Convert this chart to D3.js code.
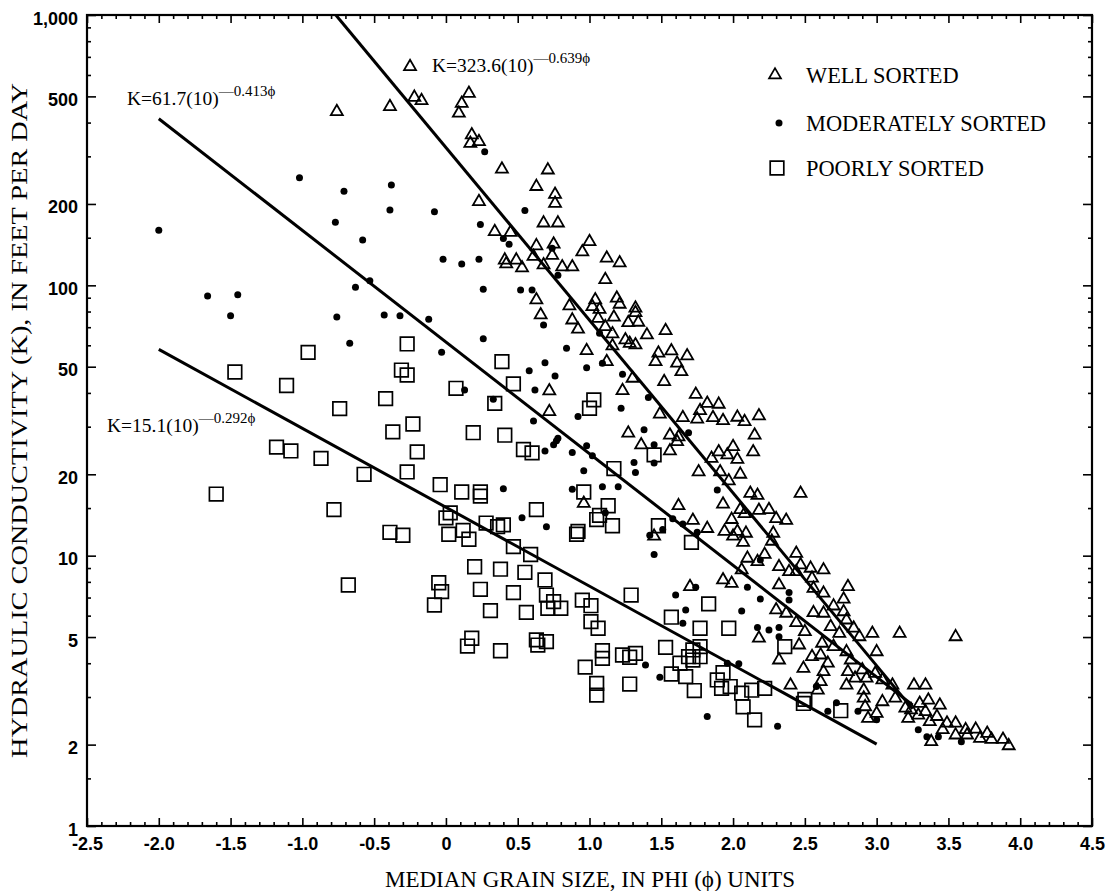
<!DOCTYPE html>
<html><head><meta charset="utf-8">
<script src="https://cdn.jsdelivr.net/npm/d3@7"></script>
<style>
html,body{margin:0;padding:0;background:#fff;}
svg{display:block;}
</style></head>
<body><svg id="chart" width="1111" height="891"></svg>
<script>
// ---------- DATA ----------
const wellPhi = [-0.76,-0.39,-0.25,-0.22,-0.17,0.16,0.11,0.09,0.18,0.17,0.23,0.39,0.71,0.63,0.76,0.76,0.23,0.68,0.78,0.34,0.45,0.63,0.75,0.61,0.68,0.74,1.00,0.95,1.12,1.21,1.11,0.41,0.42,0.49,0.53,0.81,0.88,0.86,1.04,1.02,1.07,1.19,1.21,1.32,1.32,0.63,0.66,0.88,0.92,1.06,1.11,1.17,1.16,1.27,1.34,1.25,1.28,1.32,1.40,1.53,0.98,1.16,1.12,1.48,1.46,1.57,1.68,1.61,1.64,1.30,1.52,0.72,1.23,1.74,0.72,1.49,1.65,1.75,1.27,1.56,1.62,1.36,1.61,1.56,0.96,1.62,1.72,1.45,1.70,1.76,1.82,1.90,1.77,1.86,1.93,2.03,2.08,2.18,2.15,2.00,1.90,1.96,2.03,2.14,1.85,1.91,1.97,2.05,2.12,2.17,1.93,2.47,2.05,2.08,2.18,2.25,2.30,2.37,1.99,1.82,1.94,2.03,2.09,2.00,2.07,2.28,2.27,2.10,2.17,2.22,2.06,2.32,2.39,2.44,2.47,2.54,2.63,2.44,1.93,1.99,2.32,2.55,2.56,2.80,2.63,2.77,2.70,2.30,2.37,2.56,2.63,2.77,2.79,2.44,2.50,2.68,2.74,2.84,2.88,2.97,3.16,3.55,2.18,2.62,2.70,2.46,2.55,2.61,2.32,2.49,2.66,2.79,2.82,3.00,2.90,2.85,2.80,2.93,2.99,2.63,2.61,2.59,2.40,2.79,2.91,3.04,3.11,3.13,2.91,3.04,2.92,3.00,2.94,3.26,3.34,3.20,3.24,3.30,3.36,3.44,3.22,3.29,3.34,3.42,3.37,3.49,3.55,3.46,3.62,3.69,3.63,3.72,3.77,3.80,3.88,3.92,3.38,3.55];
const wellK = [439,458,644,496,482,513,471,433,360,335,340,269,267,232,217,201,204,170,170,158,157,140,142,128,119,129,145,133,126,121,105,124,120,124,116,117,117,83.9,88.3,83.4,81.5,89.6,85.1,82.3,79.2,88.3,77.7,74.4,68.8,75.5,70.3,76.2,66.1,72.7,73.0,62.8,61.0,60.2,65.5,68.0,57.3,59.7,52.2,56.1,52.2,57.2,54.8,51.5,47.9,45.3,44.0,40.7,40.8,39.5,34.1,33.4,32.4,32.0,28.4,27.9,27.5,25.7,26.4,24.4,15.6,15.3,13.5,11.8,7.68,20.4,36.6,36.3,34.4,32.4,31.6,32.5,31.3,32.9,27.9,25.3,24.2,23.6,22.7,24.2,22.9,20.4,18.9,20.0,17.0,16.7,15.5,17.0,14.8,14.3,14.7,14.8,13.7,13.5,13.6,12.6,12.3,12.3,12.1,11.8,11.2,12.1,11.3,9.78,9.50,10.1,8.85,9.10,8.72,10.2,9.24,8.98,8.85,8.72,8.13,7.90,7.79,8.25,7.57,7.68,7.26,6.90,6.51,6.30,6.12,6.15,6.12,6.20,5.78,5.65,5.23,5.46,5.16,5.39,5.01,5.16,5.16,5.01,4.95,4.74,4.61,4.67,4.23,4.29,4.11,3.83,4.00,4.41,4.11,4.41,3.78,3.52,3.72,3.52,3.67,3.72,3.42,3.18,3.32,3.32,3.18,3.47,3.32,2.97,2.97,2.88,2.76,2.61,2.50,3.32,3.32,2.73,2.69,2.84,2.92,2.80,2.50,2.57,2.65,2.54,2.43,2.40,2.40,2.27,2.27,2.28,2.17,2.11,2.20,2.09,2.09,1.98,2.05,2.17];

const moderatePhi = [-1.02,-0.71,-0.38,-0.39,-0.77,-0.58,-2.00,-0.53,-0.63,-1.66,-1.45,-1.50,-0.76,-0.43,-0.32,-0.67,0.27,-0.08,0.55,0.24,0.40,0.44,0.74,-0.02,0.11,0.23,0.78,0.26,0.52,0.60,0.68,-0.12,0.26,-0.03,0.84,0.69,0.58,0.76,0.98,1.09,1.07,1.23,0.13,0.62,0.33,1.41,1.22,0.92,0.61,1.38,1.69,0.78,0.75,0.77,0.69,0.88,0.98,1.02,1.45,1.31,1.32,0.96,1.45,0.40,0.88,1.09,1.20,0.53,0.70,1.11,1.58,1.51,1.42,1.45,1.65,1.75,1.60,1.67,1.65,1.74,1.39,1.49,1.89,2.10,2.19,2.06,2.39,2.39,2.17,2.25,2.32,2.32,2.58,2.04,1.96,1.82,2.31,2.72,2.66,2.87,3.00,3.29,3.35,3.43,3.59,2.19];
const moderateK = [250,223,235,190,171,147,160,104,98.3,91.3,92.3,77.2,76.4,77.7,77.2,61.0,312,187,189,168,149,142,137,125,120,125,109,96.7,96.1,96.1,71.3,74.9,63.5,56.5,58.5,51.7,48.3,46.2,49.6,51.5,66.5,46.9,41.0,41.0,37.9,38.5,35.1,32.7,31.5,29.2,28.5,27.2,25.7,26.6,24.4,24.1,25.5,23.4,25.7,22.1,20.3,20.6,22.0,17.7,17.6,18.0,18.0,13.8,12.8,14.4,13.7,12.5,11.9,10.1,13.1,12.2,7.15,6.30,5.62,7.64,3.94,3.55,17.5,7.64,6.92,6.24,7.30,6.85,5.42,5.31,5.42,5.01,3.28,3.98,4.00,2.54,2.34,2.86,2.66,2.66,2.47,2.27,2.14,2.14,2.05,9.64];

const poorPhi = [-0.96,-1.47,-1.11,-0.74,-0.42,-0.27,-0.31,-0.27,-0.23,-0.37,-1.18,-1.08,-0.87,-0.57,-1.60,-0.78,-0.39,-0.30,-0.68,0.39,0.47,0.07,0.34,1.03,1.00,0.19,0.41,-0.20,0.54,0.60,1.17,1.45,-0.27,-0.04,0.11,0.24,0.24,0.96,0.03,0.00,0.63,1.13,1.07,1.05,0.28,0.36,0.40,0.02,0.12,0.16,0.92,0.91,1.16,1.48,1.71,0.47,0.59,0.20,0.38,0.55,0.69,-0.05,-0.03,-0.08,0.24,0.47,0.70,0.75,0.71,0.80,0.95,1.01,1.01,1.06,1.29,0.31,0.56,1.57,1.77,0.18,0.15,0.38,0.63,0.64,0.70,1.09,1.09,1.23,1.28,1.32,1.53,0.97,1.05,1.05,1.28,1.57,1.63,1.69,1.72,1.67,1.73,1.83,1.97,2.36,1.77,1.77,1.72,1.93,1.89,1.98,1.92,2.06,2.13,2.22,2.07,2.15,2.50,2.49,2.75];
const poorK = [56.5,47.8,42.6,35.0,38.1,60.7,48.6,46.6,30.7,28.7,25.2,24.4,22.9,20.0,16.9,14.8,12.2,11.9,7.79,52.2,43.2,41.6,36.6,37.7,35.1,28.5,27.9,24.2,24.7,24.0,21.0,23.6,20.4,18.3,17.2,17.2,16.6,17.2,14.4,13.8,14.8,15.3,14.1,13.6,13.2,12.8,13.0,12.0,12.4,11.5,12.3,12.0,12.9,12.9,11.2,10.8,10.1,9.10,8.91,8.68,8.13,7.94,7.36,6.57,7.51,7.30,7.15,6.76,6.39,6.39,6.85,6.53,5.70,5.39,7.15,6.26,6.17,5.92,5.39,4.95,4.63,4.45,4.88,4.67,4.81,4.45,4.17,4.29,4.21,4.35,4.58,3.87,3.37,3.05,3.35,3.65,4.00,4.23,4.48,3.57,3.17,6.63,5.39,4.61,4.61,4.23,4.11,3.69,3.47,3.28,3.23,3.10,3.18,3.23,2.76,2.47,2.94,2.84,2.67];

// regression lines K = a * 10^(-b*phi)
const fitA = [323.6, 61.7, 15.1];
const fitB = [0.639, 0.413, 0.292];
const fitStart = [-0.77, -2.0, -2.0];
const fitEnd = [3.25, 3.25, 3.0];
const fitCoefText = ["323.6", "61.7", "15.1"];
const fitExpText = ["0.639", "0.413", "0.292"];

const xMajorTicks = [-2.5,-2.0,-1.5,-1.0,-0.5,0,0.5,1.0,1.5,2.0,2.5,3.0,3.5,4.0,4.5];
const xTickLabels = ["-2.5","-2.0","-1.5","-1.0","-0.5","0","0.5","1.0","1.5","2.0","2.5","3.0","3.5","4.0","4.5"];
const yMajorTicks = [1,2,5,10,20,50,100,200,500,1000];
const yTickLabels = ["1","2","5","10","20","50","100","200","500","1,000"];
const yMinorTicks = [1.5,3,4,6,7,8,9,15,30,40,60,70,80,90,150,300,400,600,700,800,900];
const legendLabels = ["WELL SORTED","MODERATELY SORTED","POORLY SORTED"];
const xTitle = "MEDIAN GRAIN SIZE, IN PHI (\u03D5) UNITS";
const yTitle = "HYDRAULIC CONDUCTIVITY (K), IN FEET PER DAY";

// ---------- LAYOUT ----------
const L = 87, R = 1092, T = 15, B = 826;
const serif = "'Liberation Serif','Times New Roman',serif";
const sans = "'Liberation Sans',Arial,sans-serif";

const svg = d3.select("#chart");
const x = d3.scaleLinear().domain([-2.5, 4.5]).range([L, R]);
const y = d3.scaleLog().domain([1, 1000]).range([B, T]);

const xMinorTicks = d3.range(-25, 46).map(v => v / 10).filter(v => !xMajorTicks.some(m => Math.abs(m - v) < 1e-9));

function styleAxis(g) {
  g.select(".domain").remove();
  g.selectAll(".tick line").attr("stroke", "#000").attr("stroke-width", 1.6);
}

// bottom axis
svg.append("g").attr("transform", `translate(0,${B})`)
  .call(d3.axisBottom(x).tickValues(xMinorTicks).tickSize(-4).tickFormat(""))
  .call(styleAxis);
svg.append("g").attr("transform", `translate(0,${B})`)
  .call(d3.axisBottom(x).tickValues(xMajorTicks).tickSize(-8).tickPadding(11)
    .tickFormat((d, i) => xTickLabels[i]))
  .call(styleAxis)
  .call(g => g.selectAll("text").attr("font-family", sans).attr("font-weight", "bold")
    .attr("font-size", 18).attr("fill", "#000"));
// top axis
svg.append("g").attr("transform", `translate(0,${T})`)
  .call(d3.axisTop(x).tickValues(xMinorTicks).tickSize(-4).tickFormat(""))
  .call(styleAxis);
svg.append("g").attr("transform", `translate(0,${T})`)
  .call(d3.axisTop(x).tickValues(xMajorTicks).tickSize(-8).tickFormat(""))
  .call(styleAxis);
// left axis
svg.append("g").attr("transform", `translate(${L},0)`)
  .call(d3.axisLeft(y).tickValues(yMinorTicks).tickSize(-4).tickFormat(""))
  .call(styleAxis);
svg.append("g").attr("transform", `translate(${L},0)`)
  .call(d3.axisLeft(y).tickValues(yMajorTicks).tickSize(-9).tickPadding(9)
    .tickFormat((d, i) => yTickLabels[i]))
  .call(styleAxis)
  .call(g => g.selectAll("text").attr("font-family", sans).attr("font-weight", "bold")
    .attr("font-size", 18).attr("fill", "#000").attr("dy", "0.5em"));
// right axis
svg.append("g").attr("transform", `translate(${R},0)`)
  .call(d3.axisRight(y).tickValues(yMinorTicks).tickSize(-4).tickFormat(""))
  .call(styleAxis);
svg.append("g").attr("transform", `translate(${R},0)`)
  .call(d3.axisRight(y).tickValues(yMajorTicks).tickSize(-9).tickFormat(""))
  .call(styleAxis);

// frame
svg.append("rect").attr("x", L).attr("y", T).attr("width", R - L).attr("height", B - T)
  .attr("fill", "none").attr("stroke", "#000").attr("stroke-width", 2.2);

// clip
svg.append("clipPath").attr("id", "plotclip").append("rect")
  .attr("x", L).attr("y", T).attr("width", R - L).attr("height", B - T);

const plot = svg.append("g").attr("clip-path", "url(#plotclip)");

// regression lines
const line = d3.line().x(d => x(d[0])).y(d => y(d[1]));
fitA.forEach((a, i) => {
  const pts = [fitStart[i], fitEnd[i]].map(p => [p, a * Math.pow(10, -fitB[i] * p)]);
  plot.append("path").attr("d", line(pts)).attr("fill", "none")
    .attr("stroke", "#000").attr("stroke-width", 3);
});

// markers
const triSym = d3.symbol().type(d3.symbolTriangle).size(62);
const sqSym = d3.symbol().type(d3.symbolSquare).size(185);

plot.append("g").selectAll("path").data(poorPhi.map((p, i) => [p, poorK[i]])).join("path")
  .attr("transform", d => `translate(${x(d[0])},${y(d[1])})`)
  .attr("d", sqSym).attr("fill", "none").attr("stroke", "#000").attr("stroke-width", 1.7);

plot.append("g").selectAll("path").data(wellPhi.map((p, i) => [p, wellK[i]])).join("path")
  .attr("transform", d => `translate(${x(d[0])},${y(d[1])})`)
  .attr("d", triSym).attr("fill", "none").attr("stroke", "#000").attr("stroke-width", 1.8);

plot.append("g").selectAll("circle").data(moderatePhi.map((p, i) => [p, moderateK[i]])).join("circle")
  .attr("cx", d => x(d[0])).attr("cy", d => y(d[1])).attr("r", 3.5).attr("fill", "#000");

// regression labels
const labelPos = [[432, 72], [127, 105], [107, 432]];
labelPos.forEach((pos, i) => {
  const t = svg.append("text").attr("x", pos[0]).attr("y", pos[1])
    .attr("font-family", serif).attr("font-size", 19.5).attr("fill", "#000");
  t.append("tspan").text(`K=${fitCoefText[i]}(10)`);
  t.append("tspan").attr("dy", -9.5).attr("font-size", 15).text(`\u2014${fitExpText[i]}\u03D5`);
});

// legend
const legX = 777;
const legY = [75, 123, 168];
const leg = svg.append("g");
leg.append("path").attr("transform", `translate(${legX - 2},${legY[0]})`).attr("d", triSym)
  .attr("fill", "none").attr("stroke", "#000").attr("stroke-width", 1.7);
leg.append("circle").attr("cx", legX + 2).attr("cy", legY[1]).attr("r", 3.5).attr("fill", "#000");
leg.append("path").attr("transform", `translate(${legX},${legY[2]})`).attr("d", sqSym)
  .attr("fill", "none").attr("stroke", "#000").attr("stroke-width", 1.7);
legendLabels.forEach((s, i) => {
  leg.append("text").attr("x", 806).attr("y", legY[i] + 7.5)
    .attr("font-family", serif).attr("font-size", 22.4).attr("fill", "#000").text(s);
});

// axis titles
svg.append("text").attr("x", 590).attr("y", 887).attr("text-anchor", "middle")
  .attr("font-family", serif).attr("font-size", 23).attr("fill", "#000").text(xTitle);
svg.append("text").attr("transform", `translate(27,${(T + B) / 2}) rotate(-90)`)
  .attr("text-anchor", "middle")
  .attr("font-family", serif).attr("font-size", 24).attr("fill", "#000")
  .attr("textLength", 675).attr("lengthAdjust", "spacingAndGlyphs").text(yTitle);
</script>
</body></html>
